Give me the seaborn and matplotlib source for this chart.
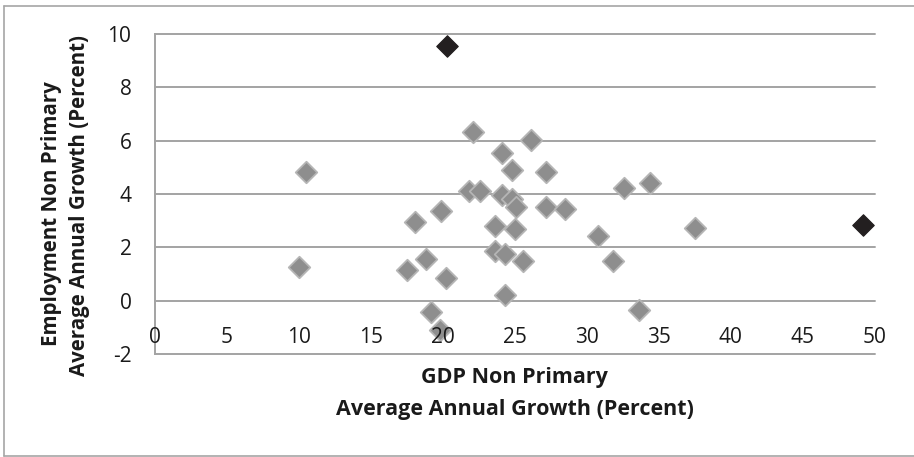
import pandas as pd
import seaborn as sns
import matplotlib.pyplot as plt
from matplotlib.lines import Line2D

# Data (GDP growth vs employment growth, non primary)
gdp_growth = [10.0, 10.5, 17.5, 18.1, 18.8, 19.2, 19.8, 19.9, 20.2, 21.8,
              22.1, 22.6, 23.6, 23.6, 24.1, 24.1, 24.3, 24.3, 24.8, 24.8,
              25.1, 25.0, 25.6, 26.1, 27.2, 27.2, 28.5, 30.8, 31.8, 32.6,
              33.6, 34.4, 37.5]
emp_growth = [1.25, 4.82, 1.15, 2.95, 1.57, -0.41, -1.1, 3.36, 0.84, 4.10,
              6.33, 4.10, 2.79, 1.85, 5.54, 3.95, 1.74, 0.22, 4.91, 3.80,
              3.53, 2.70, 1.50, 6.04, 4.84, 3.51, 3.42, 2.44, 1.48, 4.22,
              -0.35, 4.42, 2.73]

outlier_gdp = [20.3, 49.2]
outlier_emp = [9.55, 2.84]

df = pd.DataFrame({"gdp": gdp_growth, "emp": emp_growth})
df_out = pd.DataFrame({"gdp": outlier_gdp, "emp": outlier_emp})

x_ticks = [0, 5, 10, 15, 20, 25, 30, 35, 40, 45, 50]
y_ticks = [-2, 0, 2, 4, 6, 8, 10]

sns.set_theme(style="white")
plt.rcParams["font.family"] = ["Open Sans", "DejaVu Sans"]

fig = plt.figure(figsize=(9.14, 4.57), dpi=100)
ax = fig.add_axes([0.1696, 0.2254, 0.7872, 0.7002])

grid_col = "#a3a3a3"

sns.scatterplot(data=df, x="gdp", y="emp", marker="D", s=120,
                color="#8e8e8e", edgecolor="#b5b5b5", linewidth=1.3,
                ax=ax, zorder=3, legend=False)
sns.scatterplot(data=df_out, x="gdp", y="emp", marker="D", s=120,
                color="#231f20", edgecolor="#231f20", linewidth=0.8,
                ax=ax, zorder=3, legend=False)

ax.set_xlim(0, 50)
ax.set_ylim(-2, 10)
ax.set_xticks(x_ticks)
ax.set_yticks(y_ticks)
ax.set_xticklabels([str(v) for v in x_ticks])
ax.set_yticklabels([str(v) for v in y_ticks])

# horizontal gridlines (including the -2 border)
for yv in y_ticks:
    ax.axhline(yv, color=grid_col, linewidth=1.4, zorder=1, clip_on=False)

for s in ["top", "right", "bottom"]:
    ax.spines[s].set_visible(False)
ax.spines["left"].set_color(grid_col)
ax.spines["left"].set_linewidth(1.4)
ax.spines["bottom"].set_position(("data", 0))

ax.tick_params(axis="both", length=0, labelsize=15, colors="#1a1a1a")
ax.tick_params(axis="x", pad=19)
ax.tick_params(axis="y", pad=17)
ax.xaxis.set_zorder(5)

ax.set_xlabel("")
ax.set_ylabel("")

fig.text(0.563, 1 - 377 / 457, "GDP Non Primary",
         ha="center", va="center", fontsize=15.5, fontweight="bold",
         color="#1a1a1a")
fig.text(0.563, 1 - 409 / 457, "Average Annual Growth (Percent)",
         ha="center", va="center", fontsize=15.5, fontweight="bold",
         color="#1a1a1a")
fig.text(52 / 914, 1 - 214 / 457, "Employment Non Primary",
         ha="center", va="center", rotation=90, fontsize=14.8,
         fontweight="bold", color="#1a1a1a")
fig.text(80 / 914, 1 - 205 / 457, "Average Annual Growth (Percent)",
         ha="center", va="center", rotation=90, fontsize=14.8,
         fontweight="bold", color="#1a1a1a")

# outer chart border (no right edge)
border = "#a6a6a6"
fig.add_artist(Line2D([3.5 / 914, 1], [1 - 5.5 / 457] * 2,
                      color=border, linewidth=1.2, transform=fig.transFigure))
fig.add_artist(Line2D([3.5 / 914, 1], [1 - 455.5 / 457] * 2,
                      color=border, linewidth=1.2, transform=fig.transFigure))
fig.add_artist(Line2D([3.5 / 914] * 2, [1 - 5.5 / 457, 1 - 455.5 / 457],
                      color=border, linewidth=1.2, transform=fig.transFigure))

fig.savefig("out.png", dpi=100, facecolor="white")
